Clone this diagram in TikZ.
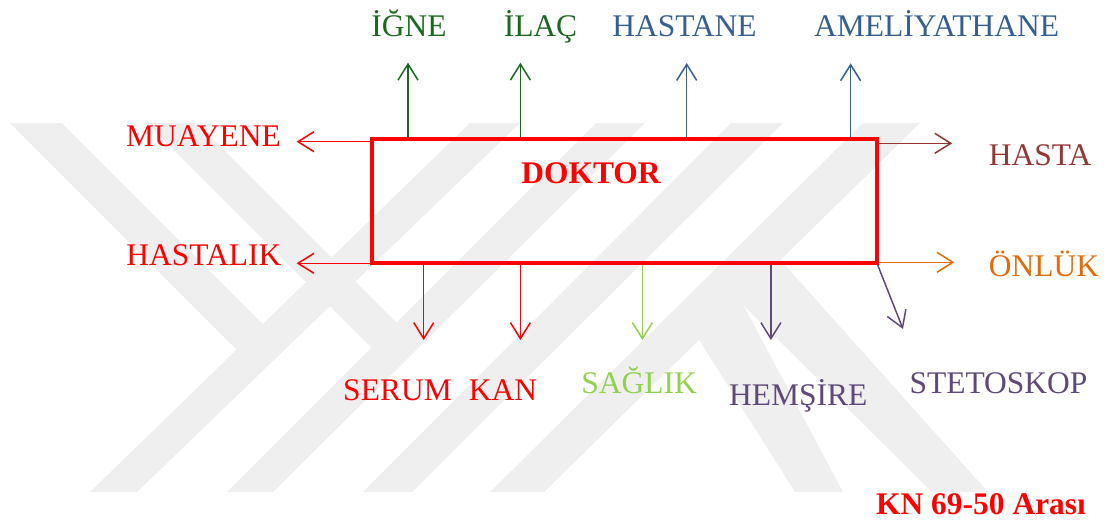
\documentclass[tikz,border=0pt]{standalone}
\usepackage{fontspec}
\setmainfont{Liberation Serif}
\usetikzlibrary{arrows.meta}
\definecolor{wm}{RGB}{239,239,239}
\definecolor{dgreen}{RGB}{28,104,32}
\definecolor{sblue}{RGB}{54,95,145}
\definecolor{brownred}{RGB}{148,54,52}
\definecolor{orng}{RGB}{227,108,9}
\definecolor{lgreen}{RGB}{146,208,80}
\definecolor{purp}{RGB}{95,73,122}
\begin{document}
\begin{tikzpicture}[x=1pt,y=-1pt,
  lbl/.style={font=\fontsize{31.5}{36}\selectfont, inner sep=0pt, anchor=base},
  boldlbl/.style={lbl, font=\fontsize{31.5}{36}\selectfont\bfseries},
  arr/.style={line width=1.5pt, -{Straight Barb[length=16pt,width=20pt]}},
  band/.style={fill=wm, draw=none},
  boxshape/.style={rectangle, minimum width=505pt, minimum height=124pt, inner sep=0pt, outer sep=0pt}]
\useasboundingbox (0,0) rectangle (1110,523);
% watermark
\fill[band] (10,123) -- (62,123) -- (270,331) -- (243.6,356.6) -- cycle;
\fill[band] (90,492) -- (137,492) -- (520,123) -- (470,123) -- cycle;
\fill[band] (147,123) -- (197,123) -- (403.5,329.5) -- (378.5,354.5) -- cycle;
\fill[band] (227,492) -- (273,492) -- (645,123) -- (596,123) -- cycle;
\fill[band] (363,492) -- (412,492) -- (783,123) -- (731,123) -- cycle;
\fill[band] (490,492) -- (544,492) -- (920,123) -- (863,123) -- cycle;
\fill[band] (696,335) -- (739,297) -- (843,492) -- (795,492) -- cycle;
\fill[band] (736,298) -- (776,255) -- (988,492) -- (932,492) -- cycle;
% box
\node[boxshape] (doktor) at (624.5,201.3) {};
% arrow ends
\coordinate (tIgne) at (408,62.7);
\coordinate (tIlac) at (520.4,62.7);
\coordinate (tHastane) at (686.7,63);
\coordinate (tAmel) at (850.6,63.3);
\coordinate (tMuay) at (296.6,141.7);
\coordinate (tHastalik) at (296.6,263.3);
\coordinate (tHasta) at (952.2,143.3);
\coordinate (tOnluk) at (954.3,262.3);
\coordinate (tSerum) at (423.7,340);
\coordinate (tKan) at (520.4,340);
\coordinate (tSaglik) at (642.4,340);
\coordinate (tHemsire) at (770.9,340);
\coordinate (tSteto) at (903,329);
% arrows
\draw[arr, dgreen] (tIgne |- doktor.north) -- (tIgne);
\draw[arr, dgreen] (tIlac |- doktor.north) -- (tIlac);
\draw[arr, sblue] (tHastane |- doktor.north) -- (tHastane);
\draw[arr, sblue] (tAmel |- doktor.north) -- (tAmel);
\draw[arr, red] (tMuay -| doktor.west) -- (tMuay);
\draw[arr, red] (tHastalik -| doktor.west) -- (tHastalik);
\draw[arr, brownred] (tHasta -| doktor.east) -- (tHasta);
\draw[arr, orng] (tOnluk -| doktor.east) -- (tOnluk);
\draw[arr, red] (tSerum |- doktor.south) -- (tSerum);
\draw[arr, red] (tKan |- doktor.south) -- (tKan);
\draw[arr, lgreen] (tSaglik |- doktor.south) -- (tSaglik);
\draw[arr, purp] (tHemsire |- doktor.south) -- (tHemsire);
\draw[arr, purp] (doktor.south east) -- (tSteto);
\draw[red, line width=4pt] (doktor.north west) rectangle (doktor.south east);
% texts
\node[boldlbl, text=red] (doktortxt) at (591,183) {DOKTOR};
\node[lbl, text=dgreen] (igne) at (409,36) {İĞNE};
\node[lbl, text=dgreen] (ilac) at (540.5,36) {İLAÇ};
\node[lbl, text=sblue] (hastane) at (684.5,36.7) {HASTANE};
\node[lbl, text=sblue] (ameliyat) at (936.5,36.7) {AMELİYATHANE};
\node[lbl, text=red] (muayene) at (203.5,146.7) {MUAYENE};
\node[lbl, text=red] (hastalik) at (203.8,265) {HASTALIK};
\node[lbl, text=brownred] (hasta) at (1040,165) {HASTA};
\node[lbl, text=orng] (onluk) at (1044,276) {ÖNLÜK};
\node[lbl, text=red] (serum) at (397.5,400) {SERUM};
\node[lbl, text=red] (kan) at (503,400) {KAN};
\node[lbl, text=lgreen] (saglik) at (639.2,393) {SAĞLIK};
\node[lbl, text=purp] (hemsire) at (798.3,405) {HEMŞİRE};
\node[lbl, text=purp] (steto) at (998.5,393.7) {STETOSKOP};
\node[boldlbl, text=red] (kn) at (981,514.7) {KN 69-50 Arası};
\end{tikzpicture}
\end{document}
